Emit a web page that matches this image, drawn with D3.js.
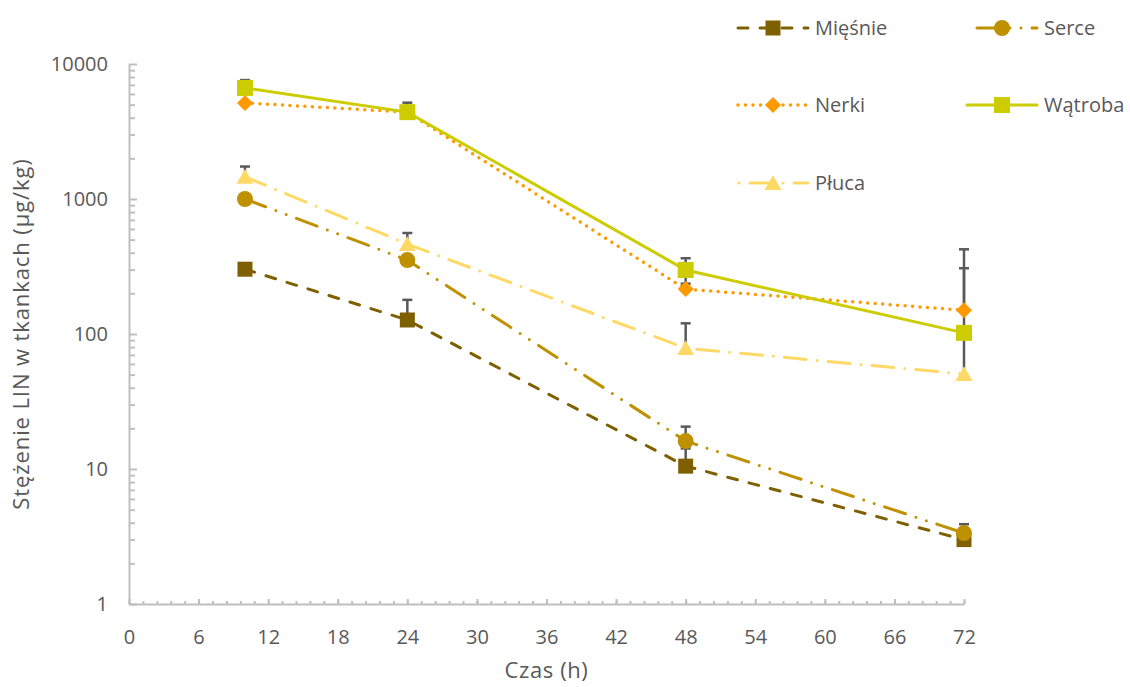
<!DOCTYPE html>
<html>
<head>
<meta charset="utf-8">
<script src="https://cdn.jsdelivr.net/npm/d3@7"></script>
<style>
  body { margin: 0; background: #fff; }
  svg text { font-family: "Open Sans", sans-serif; fill: #595959; }
  .axis path, .axis line { stroke: #bfbfbf; stroke-width: 2; }
  .axis text { font-size: 20px; }
</style>
</head>
<body>
<div id="chart"></div>
<script>
/* Data ***********************************************************************/

// sampling times (h)
var hours = [10, 24, 48, 72];

// concentrations (µg/kg)
var miesnie = [302, 127, 10.5, 3.0],
    serce   = [1000, 353, 16.1, 3.35],
    nerki   = [5150, 4400, 215, 150],
    watroba = [6650, 4400, 298, 102],
    pluca   = [1460, 464, 78.5, 50.5];

// error bar ends (null = none)
var miesnieHi = [null, 179, 14.2, null],
    serceHi   = [null, null, 20.6, 3.9],
    nerkiHi   = [null, null, null, 307],
    watrobaHi = [7600, 5170, 364, 424],
    watrobaLo = [null, null, 236, 47],
    plucaHi   = [1740, 560, 120, null];

var xTicks = [0, 6, 12, 18, 24, 30, 36, 42, 48, 54, 60, 66, 72],
    yTicks = [1, 10, 100, 1000, 10000];

var seriesNames = ['Mięśnie', 'Serce', 'Nerki', 'Wątroba', 'Płuca'];

/* Chart **********************************************************************/

function build_chart()
{
    let width = 1130, height = 687,
        margin = { top: 64, bottom: 83, left: 129, right: 166 };

    let x = d3.scaleLinear().domain([0, 72]).range([margin.left, width - margin.right]),
        y = d3.scaleLog().domain([1, 10000]).range([height - margin.bottom, margin.top]);

    let svg = d3.select('#chart').append('svg')
        .attr('width', width).attr('height', height);

    // series styles
    let series = [
        { name: seriesNames[0], vals: miesnie, hi: miesnieHi, lo: null, color: '#7f6000',
          dash: '10,12', width: 3, marker: 'square', size: 15, legOff: 0 },
        { name: seriesNames[1], vals: serce, hi: serceHi, lo: null, color: '#bf9000',
          dash: '22,11,0,11,0,11', width: 3, marker: 'circle', size: 16, legOff: -10 },
        { name: seriesNames[2], vals: nerki, hi: nerkiHi, lo: null, color: '#ff9900',
          dash: '0,7.5', width: 3.5, marker: 'diamond', size: 16, legOff: 0 },
        { name: seriesNames[3], vals: watroba, hi: watrobaHi, lo: watrobaLo, color: '#cccc00',
          dash: null, width: 3, marker: 'square', size: 16, legOff: 0 },
        { name: seriesNames[4], vals: pluca, hi: plucaHi, lo: null, color: '#ffd966',
          dash: '22,11,0,11', width: 3, marker: 'triangle', size: 17, legOff: -12 }
    ];

    // axes //////////////////////////////////////////////////////////
    let xMinor = d3.range(0, 61).map(i => i * 1.2);
    svg.append('g').attr('class', 'axis')
        .attr('transform', `translate(0,${y(1)})`)
        .call(d3.axisBottom(x).tickValues(xMinor).tickSize(-3).tickFormat(''))
        .call(g => g.select('.domain').remove());

    svg.append('g').attr('class', 'axis')
        .attr('transform', `translate(0,${y(1)})`)
        .call(d3.axisBottom(x).tickValues(xTicks).tickSize(-5).tickSizeOuter(0).tickPadding(26));

    let yMinor = [];
    yTicks.slice(0, -1).forEach(d => d3.range(2, 10).forEach(k => yMinor.push(d * k)));
    svg.append('g').attr('class', 'axis')
        .attr('transform', `translate(${x(0)},0)`)
        .call(d3.axisLeft(y).tickValues(yMinor).tickSize(-6).tickFormat(''))
        .call(g => g.select('.domain').remove());

    svg.append('g').attr('class', 'axis')
        .attr('transform', `translate(${x(0)},0)`)
        .call(d3.axisLeft(y).tickValues(yTicks).tickSize(-8).tickSizeOuter(0)
              .tickPadding(21).tickFormat(d3.format('d')));

    // axis titles
    svg.append('text')
        .attr('x', x(36)).attr('y', 678)
        .attr('text-anchor', 'middle')
        .style('font-size', '22px')
        .style('letter-spacing', '0.6px')
        .text('Czas (h)');

    svg.append('text')
        .attr('transform', `translate(29,${y(100)}) rotate(-90)`)
        .attr('text-anchor', 'middle')
        .style('font-size', '22px')
        .style('letter-spacing', '0.9px')
        .text('Stężenie LIN w tkankach (µg/kg)');

    // error bars ////////////////////////////////////////////////////
    let eb = svg.append('g').attr('stroke', '#595959').attr('stroke-width', 2.5);
    series.forEach(s => {
        hours.forEach((h, i) => {
            [s.hi ? s.hi[i] : null, s.lo ? s.lo[i] : null].forEach(end => {
                if (end == null) return;
                eb.append('line')
                    .attr('x1', x(h)).attr('x2', x(h))
                    .attr('y1', y(s.vals[i])).attr('y2', y(end));
                eb.append('line')
                    .attr('x1', x(h) - 5).attr('x2', x(h) + 5)
                    .attr('y1', y(end)).attr('y2', y(end));
            });
        });
    });

    // lines /////////////////////////////////////////////////////////
    let line = d3.line().x((d, i) => x(hours[i])).y(d => y(d));
    series.forEach(s => {
        svg.append('path')
            .attr('d', line(s.vals))
            .attr('fill', 'none')
            .attr('stroke', s.color)
            .attr('stroke-width', s.width)
            .attr('stroke-linecap', 'round')
            .attr('stroke-dasharray', s.dash);
    });

    // markers ///////////////////////////////////////////////////////
    let symbolOf = {
        square: d3.symbolSquare, circle: d3.symbolCircle,
        diamond: d3.symbolDiamond2, triangle: d3.symbolTriangle
    };
    function marker(g, s, cx, cy) {
        let area = s.marker === 'circle' ? Math.PI * (s.size / 2) ** 2
                 : s.marker === 'triangle' ? s.size * s.size * 0.433
                 : s.marker === 'diamond' ? (s.size / 1.2525) ** 2
                 : s.size * s.size;
        g.append('path')
            .attr('d', d3.symbol(symbolOf[s.marker], area)())
            .attr('transform', `translate(${cx},${cy + (s.marker === 'triangle' ? 2 : 0)})`)
            .attr('fill', s.color);
    }
    series.forEach(s => {
        let g = svg.append('g');
        s.vals.forEach((v, i) => marker(g, s, x(hours[i]), y(v)));
    });

    // legend ////////////////////////////////////////////////////////
    let legPos = [[738, 28], [967, 28], [738, 105], [967, 105], [738, 183]];
    series.forEach((s, i) => {
        let [lx, ly] = legPos[i],
            g = svg.append('g');
        g.append('line')
            .attr('x1', lx).attr('x2', lx + 70)
            .attr('y1', ly).attr('y2', ly)
            .attr('stroke', s.color)
            .attr('stroke-width', s.width)
            .attr('stroke-linecap', 'round')
            .attr('stroke-dasharray', s.dash)
            .attr('stroke-dashoffset', s.legOff);
        marker(g, s, lx + 35, ly);
        g.append('text')
            .attr('x', lx + 77).attr('y', ly)
            .attr('dy', '0.35em')
            .style('font-size', '20px')
            .text(s.name);
    });
}

build_chart();
</script>
</body>
</html>
